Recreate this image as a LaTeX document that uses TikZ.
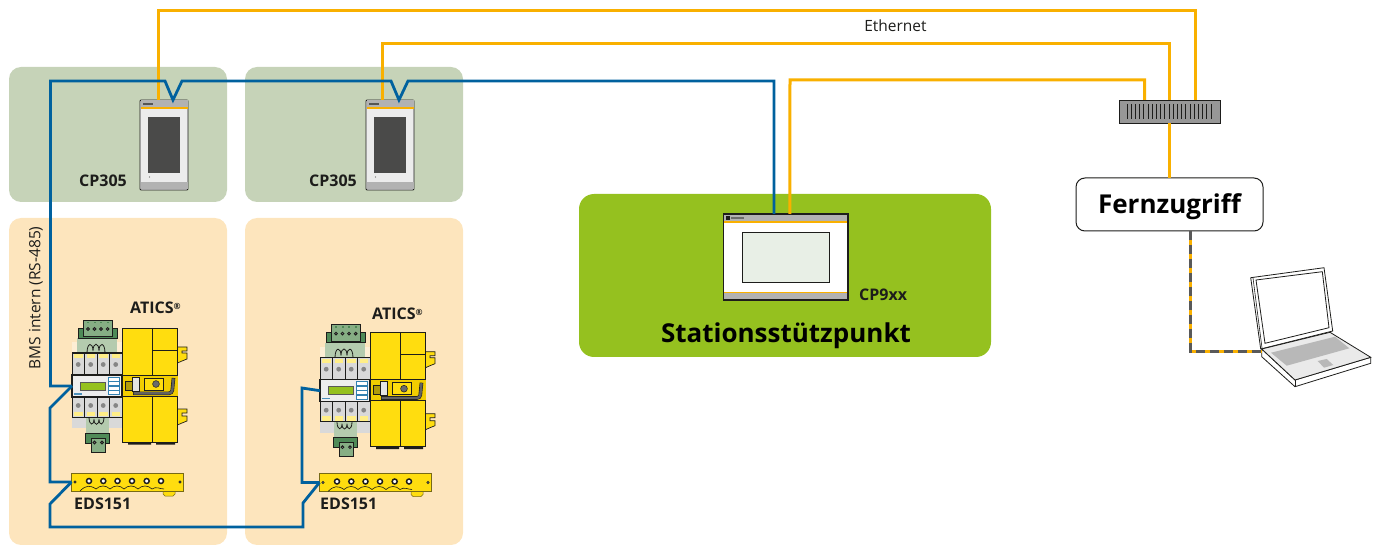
\documentclass[tikz,border=0pt]{standalone}
\usepackage{fontspec}
\setmainfont{Open Sans}
\definecolor{bluec}{HTML}{00619E}
\definecolor{orangec}{HTML}{F9B000}
\definecolor{paleg}{HTML}{C6D3B8}
\definecolor{paleo}{HTML}{FDE5BD}
\definecolor{lime}{HTML}{95C11F}
\definecolor{yel}{HTML}{FFDD0F}
\definecolor{yeld}{HTML}{F2CD00}
\definecolor{gr}{HTML}{B2B2B2}
\definecolor{grl}{HTML}{D9D9D9}
\definecolor{dgreen}{HTML}{4F8A57}
\definecolor{mgreen}{HTML}{86AE84}
\definecolor{lgreen}{HTML}{B4CBAE}
\definecolor{ink}{HTML}{1D1D1B}
\definecolor{screenc}{HTML}{E8EFE6}
\tikzset{
  panel/.style={draw=none,rounded corners=12pt,inner sep=0pt,outer sep=0pt},
  buswire/.style={draw=bluec,line width=2.8pt,line join=miter},
  netwire/.style={draw=orangec,line width=3pt},
  lab/.style={inner sep=0pt,font=\fontsize{16}{18}\selectfont\bfseries,text=ink},
  thintext/.style={inner sep=0pt,font=\fontsize{15.5}{18}\selectfont,text=ink},
  bigtext/.style={font=\fontsize{26}{29}\selectfont\bfseries,text=black},
  thin outline/.style={draw=ink,line width=0.8pt},
  box/.style={draw=ink,line width=1pt,inner sep=0pt,outer sep=0pt},
}
\newcommand{\regmark}{\raisebox{4pt}{\fontsize{8.5}{9}\selectfont ®}}
\newcommand{\atics}[1]{%
  \fill[white,opacity=.35] (72,342) rectangle (122,353);
  \fill[grl] (72,417) rectangle (122,428);
  \fill[lgreen,draw=none] (77,338) rectangle (117,353);
  \fill[lgreen] (86,417) rectangle (109,433);
  \filldraw[fill=dgreen,thin outline] (78,328) rectangle (117,338);
  \filldraw[fill=mgreen,thin outline] (83,320) rectangle (112.5,336.5);
  \foreach \hx in {88,94.5,101,107.7}{\fill[dgreen] (\hx-1,321.8) rectangle ++(2,1.6); \filldraw[fill=white,draw=ink,line width=1pt] (\hx,329) circle (1.3);}
  \filldraw[fill=dgreen,thin outline] (85,433) rectangle (109,443);
  \filldraw[fill=mgreen,thin outline] (91,438) rectangle (105,452);
  \foreach \hx in {94.5,102}{\filldraw[fill=white,draw=ink,line width=1pt] (\hx,442.5) circle (1.3);}
  \draw[ink,line width=.8pt] (87,353) .. controls (87,342) and (93,342) .. (93,351) .. controls (93,342) and (99,342) .. (99,351) .. controls (99,342) and (105,342) .. (105,353);
  \draw[ink,line width=.8pt] (89,417) .. controls (89,426) and (94,426) .. (94,419) .. controls (94,426) and (99,426) .. (99,419) .. controls (99,426) and (104,426) .. (104,417);
  \foreach \tx in {72,84.5,97,109.5}{
    \filldraw[fill=grl,draw=ink,line width=.5pt] (\tx,353) rectangle ++(12.5,22);
    \fill[yel!50!white] (\tx+2,354) rectangle ++(8.5,4.5);
    \fill[gr!75!black] (\tx+6.2,364.5) circle (2.4);
    \filldraw[fill=grl,draw=ink,line width=.5pt] (\tx,397) rectangle ++(12.5,20);
    \fill[yel!50!white] (\tx+2,411.5) rectangle ++(8.5,4.5);
    \fill[gr!75!black] (\tx+6.2,405.5) circle (2.4);
  }
  \draw[ink,line width=1pt] (72,353) -- (122,353) (72,417) -- (122,417);
  \filldraw[fill=yel,draw=ink,line width=.7pt] (177.5,347) -| (187,351) -- (182,351) -- (182,353) -- (187,353) -- (187,359) -- (182,361) -- (177.5,363) -- cycle;
  \filldraw[fill=yel,draw=ink,line width=.7pt] (177.5,409) -| (187,413) -- (182,413) -- (182,416) -- (187,416) -- (187,421) -- (182,423) -- (177.5,425) -- cycle;
  \fill[ink] (128,442) rectangle (151,444.5) (156,442) rectangle (175,444.5);
  \filldraw[fill=yel,thin outline] (122,328) rectangle (177.5,442);
  \fill[yeld] (122,375) rectangle (177.5,396);
  \draw[ink,line width=.8pt] (152.7,328) -- (152.7,375) (152.7,396) -- (152.7,442) (152.7,350) -- (177.5,350) (122,375) -- (177.5,375) (122,396) -- (177.5,396);
  \filldraw[fill=yel!70!black,draw=ink,line width=.5pt] (125,381) rectangle (132,390);
  \filldraw[fill=grl!70!white,draw=ink,line width=.5pt] (132,377) rectangle (139,391);
  \filldraw[fill=yel,draw=ink,line width=.8pt] (144,378) rectangle (163,390);
  \filldraw[fill=gr!60!black,draw=ink,line width=.5pt] (156,384) circle (3.4);
  \draw[ink,line width=3.6pt,rounded corners=3pt] (133,393.3) -- (172,393.3) -- (173.5,378);
  \draw[gr!55!black,line width=2.4pt,rounded corners=3pt] (133.5,393.3) -- (172,393.3) -- (173.5,378.5);
  \node[box,line width=1.2pt,fill=grl!45!white,anchor=north west,minimum width=50pt,minimum height=22pt] (#1) at (72,375) {};
  \filldraw[fill=lime,draw=gr!50!black,line width=.7pt] (80,382) rectangle (105,390);
  \foreach \by in {377,381.5,386,390.5}{\filldraw[fill=white,draw=bluec!80!white,line width=.8pt] (108.5,\by) rectangle ++(10.5,4);}
  \fill[bluec!70!white] (74,393) rectangle (82,394.5);
}
\newcommand{\edsbar}[1]{%
  \filldraw[fill=yel,draw=ink!60!yel,line width=.5pt] (163,491) -- (163,494) -- (165,496) -- (173,496) -- (175,494) -- (175,491) -- cycle;
  \node[fill=yel,draw=ink!60!yel,line width=.6pt,inner sep=0pt,outer sep=0pt,anchor=north west,minimum width=112pt,minimum height=18pt] (#1) at (71.5,473) {};
  \foreach \ex in {89,103.3,117.5,132,146.7,161}{\filldraw[fill=white,draw=ink,line width=1.5pt] (\ex,481) circle (2.5);}
  \foreach \ex in {75,180}{\filldraw[fill=white,draw=ink,line width=.7pt] (\ex,482) circle (1.1);}
  \draw[ink,line width=.6pt] (80,491) .. controls (86,485) and (90,485) .. (96,489) .. controls (100,485) and (106,485) .. (110,489) .. controls (114,485) and (120,485) .. (124,489) .. controls (128,485) and (134,485) .. (138,489) .. controls (142,485) and (148,485) .. (152,489) .. controls (156,486) and (160,489) .. (164,489);
}
\newcommand{\cpdevice}[1]{%
  \node[fill=grl!50!white,draw=ink,line width=.9pt,rounded corners=1pt,inner sep=0pt,outer sep=0pt,anchor=north west,minimum width=48pt,minimum height=90pt] (#1) at (140,100) {};
  \fill[gr] (140.5,100.5) rectangle (187.5,107.5);
  \fill[orangec] (140.5,107.5) rectangle (187.5,109);
  \fill[ink!75!white] (143,103) rectangle (153,105);
  \fill[ink!80!white] (148,117) rectangle (180,173);
  \fill[ink!70!white] (149.5,177) circle (.7);
  \fill[gr] (140.5,182) rectangle (187.5,189.5);
}
\begin{document}
\begin{tikzpicture}[x=1pt,y=-1pt]
\useasboundingbox (0,0) rectangle (1382,545);
\path[panel,fill=paleg] (9,67) rectangle (227,202);
\path[panel,fill=paleg] (245,67) rectangle (463,202);
\path[panel,fill=paleo] (9,218) rectangle (227,545);
\path[panel,fill=paleo] (245,218) rectangle (463,545);
\path[panel,fill=lime,rounded corners=15pt] (579,194) rectangle (991,357);
\cpdevice{cpA}
\begin{scope}[shift={(226,0)}]\cpdevice{cpB}\end{scope}
\atics{atA}
\begin{scope}[shift={(248,4.7)}]\atics{atB}\end{scope}
\edsbar{edA}
\begin{scope}[shift={(248,0.5)}]\edsbar{edB}\end{scope}
\node[fill=white,draw=ink,line width=1.2pt,inner sep=0pt,outer sep=0pt,anchor=north west,minimum width=124.5pt,minimum height=86pt] (cpn) at (723.5,214) {};
\fill[gr] (724.2,214.7) rectangle (847.3,221);
\fill[orangec] (724.2,221) rectangle (847.3,222.6);
\fill[gr] (724.2,293) rectangle (847.3,299.3);
\fill[orangec] (724.2,291.6) rectangle (847.3,293);
\fill[ink] (726,216.2) rectangle (730,220);
\fill[ink!65!white] (731,217) rectangle (744,219.5);
\node[fill=screenc,draw=ink,line width=.9pt,inner sep=0pt,outer sep=0pt,anchor=north west,minimum width=87pt,minimum height=50pt] (scr) at (742,232) {};
\node[fill=gr!85!black,draw=ink,line width=.8pt,inner sep=0pt,outer sep=0pt,anchor=north west,minimum width=101pt,minimum height=23pt] (sw) at (1119,100) {};
\foreach \i in {0,...,20}{\draw[ink,line width=.8pt] (1127+\i*4.2,104) -- (1127+\i*4.2,119);}
\node[fill=white,draw=ink,line width=1pt,rounded corners=9pt,inner sep=0pt,outer sep=0pt,anchor=north west,minimum width=187pt,minimum height=53pt,bigtext] (fz) at (1076,178) {\raisebox{-9.5pt}[0pt][0pt]{Fernzugriff}};
\coordinate (lapport) at (1261.7,351.7);
\filldraw[fill=white,draw=ink,line width=.8pt] (1250.7,277.7) -- (1324,267.7) -- (1332.7,331) -- (1260.7,349) -- cycle;
\filldraw[fill=white,draw=ink,line width=.8pt] (1256,280) -- (1322.3,271.7) -- (1329,327.7) -- (1265,343.3) -- cycle;
\draw[ink,line width=.6pt] (1253,278) -- (1262,348);
\filldraw[fill=white,draw=ink,line width=.8pt] (1261.7,349) -- (1261.7,356.7) -- (1295,386.7) -- (1370.7,363.3) -- (1370.7,357.3) -- (1295,380) -- cycle;
\filldraw[fill=grl!55!white,draw=ink,line width=.8pt] (1261.7,349) -- (1330,332.3) -- (1370.7,357.3) -- (1295,380) -- cycle;
\draw[ink,line width=.8pt] (1295,380) -- (1295,386.7);
\fill[grl!85!black] (1271,352.7) -- (1335,336.7) -- (1349.3,348.3) -- (1286.7,365.7) -- cycle;
\fill[grl!85!black] (1317.7,361) -- (1326.7,359) -- (1333.3,365) -- (1324,367.7) -- cycle;
\draw[netwire] ([xshift=-5.5pt]cpA.north) |- (1195,11) -- ([xshift=25.5pt]sw.north);
\draw[netwire] ([xshift=-7.5pt]cpB.north) |- (1169,44) -- ([xshift=-0.5pt]sw.north);
\draw[netwire] ([xshift=-25pt]sw.north) |- (790,80) -- ([xshift=4pt]cpn.north);
\draw[netwire] ([xshift=-0.5pt]sw.south) -- ([xshift=-0.5pt]sw.south |- fz.north);
\coordinate (busdrop) at (50,408);
\coordinate (busedge) at (50,504);
\draw[buswire] (cpn.north -| 774,0) |- (408,81) -- ([xshift=9pt]cpB.north) -- (391,81) -- (182,81) -- ([xshift=9pt]cpA.north) -- (165,81) -- (50.5,81) |- (atA.west);
\draw[buswire] (atA.west) -- (busdrop) |- (edA.west);
\draw[buswire] (edA.west) -- (busedge) |- (303,527) -- (303,503) -- (edB.west);
\draw[buswire] (edB.west) -| (302,388) -- (atB.west);
\draw[draw=orangec,line width=2.8pt] (fz.south -| 1190.5,0) |- (lapport);
\draw[draw=gr!50!black,line width=2.8pt,dash pattern=on 9pt off 5pt] (fz.south -| 1190.5,0) |- (lapport);
\node[thintext] (eth) at (895.5,26) {Ethernet};
\node[lab,anchor=east] (l1) at (127,180.5) {CP305};
\node[lab,anchor=east] (l2) at (357,180.5) {CP305};
\node[thintext,rotate=90] (bms) at (36,298) {BMS intern (RS-485)};
\node[lab,anchor=west] (l3) at (130,308) {ATICS\regmark};
\node[lab,anchor=west] (l4) at (372,314) {ATICS\regmark};
\node[lab,anchor=west] (l5) at (74,504) {EDS151};
\node[lab,anchor=west] (l6) at (320,504) {EDS151};
\node[lab,anchor=west] (l7) at (859,295) {CP9xx};
\node[bigtext,inner sep=0pt] (st) at (786,336) {Stationsstützpunkt};
\end{tikzpicture}
\end{document}
